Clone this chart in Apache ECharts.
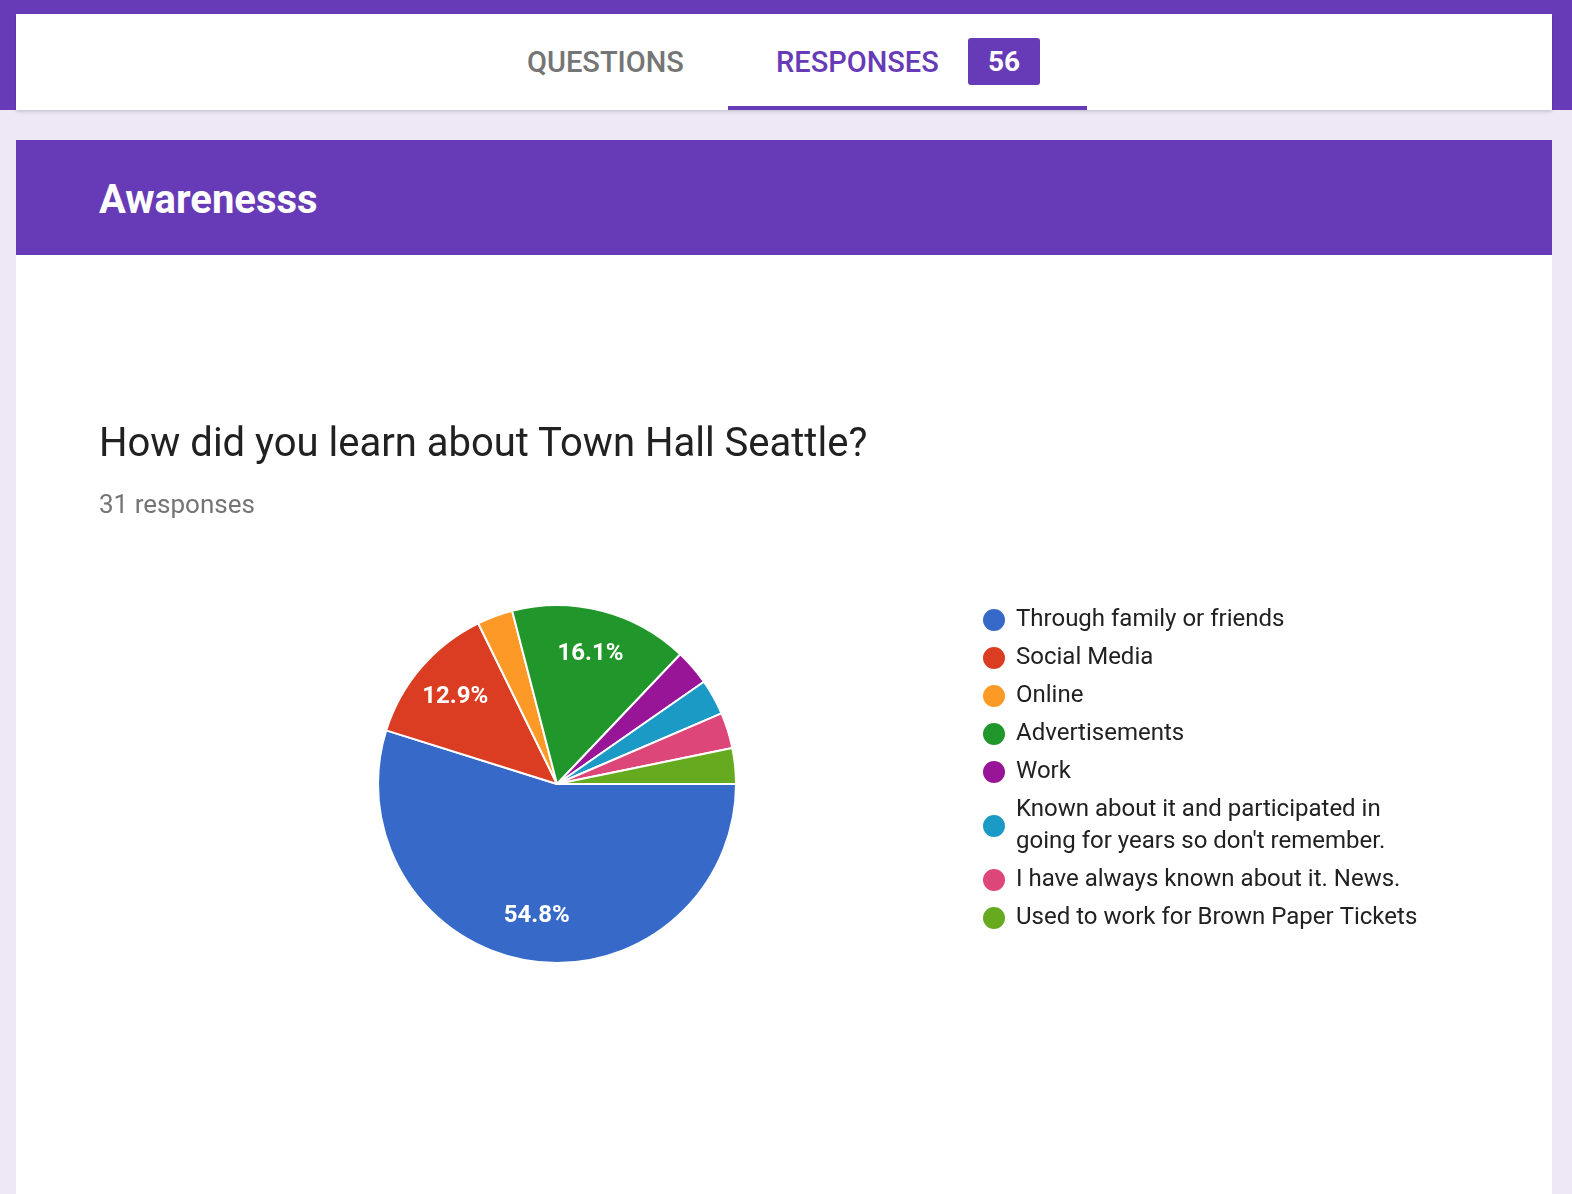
<!DOCTYPE html>
<html><head><meta charset="utf-8">
<script src="https://cdn.jsdelivr.net/npm/echarts@6/dist/echarts.min.js"></script>
<style>
html,body{margin:0;padding:0;width:1572px;height:1194px;overflow:hidden;background:#ede7f6;font-family:Roboto,Arial,sans-serif;}
#top{position:absolute;left:0;top:0;width:1572px;height:110px;background:#673ab7;}
#tabs{position:absolute;left:16px;top:14px;width:1536px;height:96px;background:#fff;box-shadow:0 2px 3px rgba(0,0,0,.15);}
.tab{position:absolute;top:31px;font-size:29px;font-weight:500;}
#ul{position:absolute;left:712px;top:92px;width:359px;height:4px;background:#673ab7;}
#badge{position:absolute;left:952px;top:24px;width:72px;height:47px;background:#673ab7;color:#fff;border-radius:3px;font-size:28px;font-weight:700;text-align:center;line-height:47px;}
#banner{position:absolute;left:16px;top:140px;width:1536px;height:115px;background:#673ab7;}
#banner div{position:absolute;left:83px;top:36px;color:#fff;font-size:40px;font-weight:700;}
#card{position:absolute;left:16px;top:255px;width:1536px;height:939px;background:#fff;}
#q{position:absolute;left:83px;top:164px;font-size:40px;color:#212121;}
#r{position:absolute;left:83px;top:234px;font-size:26px;color:#757575;}
#chart{position:absolute;left:0;top:0;width:1536px;height:939px;}
</style></head><body>
<div id="top"></div>
<div id="tabs">
<div class="tab" style="left:511px;color:#757575">QUESTIONS</div>
<div class="tab" style="left:760px;color:#673ab7">RESPONSES</div>
<div id="badge">56</div>
<div id="ul"></div>
</div>
<div id="banner"><div>Awarenesss</div></div>
<div id="card"><div id="chart"></div><div id="q">How did you learn about Town Hall Seattle?</div><div id="r">31 responses</div></div>
<script>
const categories=["Through family or friends","Social Media","Online","Advertisements","Work","Known about it and participated in going for years so don't remember.","I have always known about it. News.","Used to work for Brown Paper Tickets"];
const values=[17,4,1,5,1,1,1,1];
const colors=["#3769c9","#db3d23","#fd9a27","#21962a","#981598","#1c9ac6","#dc4678","#66aa1f"];
const total=values.reduce((a,b)=>a+b,0);
const data=categories.map((c,i)=>({name:c,value:values[i]}));
const chart=echarts.init(document.getElementById('chart'));
chart.setOption({
 color:colors,
 legend:{data:categories,orient:'vertical',left:960,top:344,itemWidth:24,itemHeight:24,icon:'circle',itemGap:6,
  textStyle:{fontSize:24,color:'#212121',fontFamily:'Roboto',lineHeight:32,padding:[0,0,0,5]},
  formatter:n=>n.startsWith('Known')?"Known about it and participated in\ngoing for years so don't remember.":n},
 series:[
 {type:'pie',center:[541,529],radius:[0,179],startAngle:0,clockwise:true,animation:false,
  itemStyle:{borderColor:'#fff',borderWidth:2},label:{show:false},labelLine:{show:false},data:data},
 {type:'pie',center:[541,529],radius:[0,262],startAngle:0,clockwise:true,animation:false,silent:true,
  legendHoverLink:false,itemStyle:{color:'rgba(0,0,0,0)'},labelLine:{show:false},
  label:{position:'inner',color:'#fff',fontSize:24,fontWeight:'bold',fontFamily:'Roboto',
   formatter:p=>p.value/total>0.05?(p.value/total*100).toFixed(1)+'%':''},
  data:data.map(d=>({name:d.name+' ',value:d.value}))}
 ]
});
</script></body></html>
